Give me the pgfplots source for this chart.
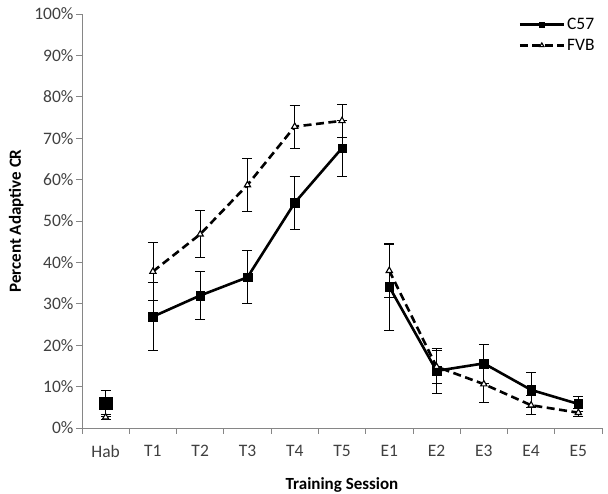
\documentclass[border=0pt]{standalone}
\usepackage{pgfplots}
\pgfplotsset{compat=1.18}
\usepackage{fontspec}
\setmainfont{Carlito}
\definecolor{axgray}{HTML}{868686}
\definecolor{txtgray}{HTML}{404040}
\begin{document}
\begin{tikzpicture}
\path[use as bounding box] (-82pt,-66pt) rectangle (526pt,428pt);
\begin{axis}[
  at={(0pt,0pt)}, anchor=south west,
  scale only axis, width=520pt, height=414pt,
  xmin=-0.5, xmax=10.5, ymin=0, ymax=100,
  axis x line*=bottom, axis y line*=left,
  axis line style={axgray, line width=0.8pt},
  xtick={0,...,10},
  xticklabels={Hab,T1,T2,T3,T4,T5,E1,E2,E3,E4,E5},
  minor xtick={-0.5,0.5,...,10.5},
  major x tick style={draw=none},
  minor tick length=6pt,
  minor x tick style={axgray, line width=0.8pt},
  ytick={0,10,...,100},
  yticklabel={\pgfmathprintnumber{\tick}\%},
  /pgf/number format/assume math mode=true,
  tick align=outside,
  major tick length=6pt,
  major y tick style={axgray, line width=0.8pt},
  tick label style={font=\fontsize{17.5}{19}\selectfont, text=txtgray},
  yticklabel style={xshift=1pt},
  xticklabel style={yshift=-8pt},
  xlabel={\textbf{Training Session}},
  ylabel={\textbf{Percent Adaptive CR}},
  label style={font=\fontsize{17}{19}\selectfont},
  xlabel style={yshift=-13pt},
  ylabel style={yshift=4pt},
  legend style={at={(0.99,1.0)}, anchor=north east, draw=none, fill=none,
    font=\fontsize{17.5}{19}\selectfont, row sep=4pt, inner xsep=0pt,
    nodes={inner xsep=2pt}},
  legend cell align=left,
  legend image code/.code={
    \draw[mark repeat=2, mark phase=2, #1, mark size=2.5pt]
      plot coordinates {(0pt,0pt) (22pt,0pt) (44pt,0pt)};
  },
  clip=false,
  error bars/error bar style={black, line width=0.7pt, solid},
  error bars/error mark options={rotate=90, mark size=5pt, line width=0.7pt, solid},
]
% C57
\addplot[black, line width=2.6pt, mark=square*, mark size=4.3pt, mark options={solid, line width=0.4pt},
  error bars/.cd, y dir=both, y explicit]
coordinates {
(1,26.9) +- (0,8.2)
(2,32.0) +- (0,5.8)
(3,36.4) +- (0,6.4)
(4,54.4) +- (0,6.4)
(5,67.6) +- (0,6.7)
};
\addlegendentry{C57}
% FVB
\addplot[black, line width=2.6pt, dash pattern=on 8pt off 4.5pt, mark=triangle*, mark size=3.6pt,
  mark options={solid, fill=white, line width=1.1pt},
  error bars/.cd, y dir=both, y explicit]
coordinates {
(1,37.8) +- (0,7.0)
(2,46.8) +- (0,5.7)
(3,58.7) +- (0,6.4)
(4,72.8) +- (0,5.2)
(5,74.2) +- (0,3.9)
};
\addlegendentry{FVB}
% E sessions
\addplot[black, line width=2.6pt, mark=square*, mark size=4.3pt, mark options={solid, line width=0.4pt}, forget plot,
  error bars/.cd, y dir=both, y explicit]
coordinates {
(6,34.1) +- (0,10.4)
(7,13.8) +- (0,5.5)
(8,15.6) +- (0,4.7)
(9,9.2) +- (0,4.3)
(10,5.8) +- (0,1.8)
};
\addplot[black, line width=2.6pt, dash pattern=on 8pt off 4.5pt, mark=triangle*, mark size=3.6pt,
  mark options={solid, fill=white, line width=1.1pt}, forget plot,
  error bars/.cd, y dir=both, y explicit]
coordinates {
(6,38.0) +- (0,6.4)
(7,14.8) +- (0,4.0)
(8,10.6) +- (0,4.5)
(9,5.5) +- (0,2.3)
(10,3.7) +- (0,1.0)
};
% Hab
\addplot[black, only marks, mark=triangle*, mark size=3.6pt,
  mark options={solid, fill=white, line width=1.1pt}, forget plot,
  error bars/.cd, y dir=both, y explicit]
coordinates {(0,2.6) +- (0,0.6)};
\addplot[black, only marks, mark=square*, mark size=6.2pt, mark options={line width=0.4pt}, forget plot,
  error bars/.cd, y dir=both, y explicit]
coordinates {(0,6.0) +- (0,3.2)};
\end{axis}
\end{tikzpicture}
\end{document}
